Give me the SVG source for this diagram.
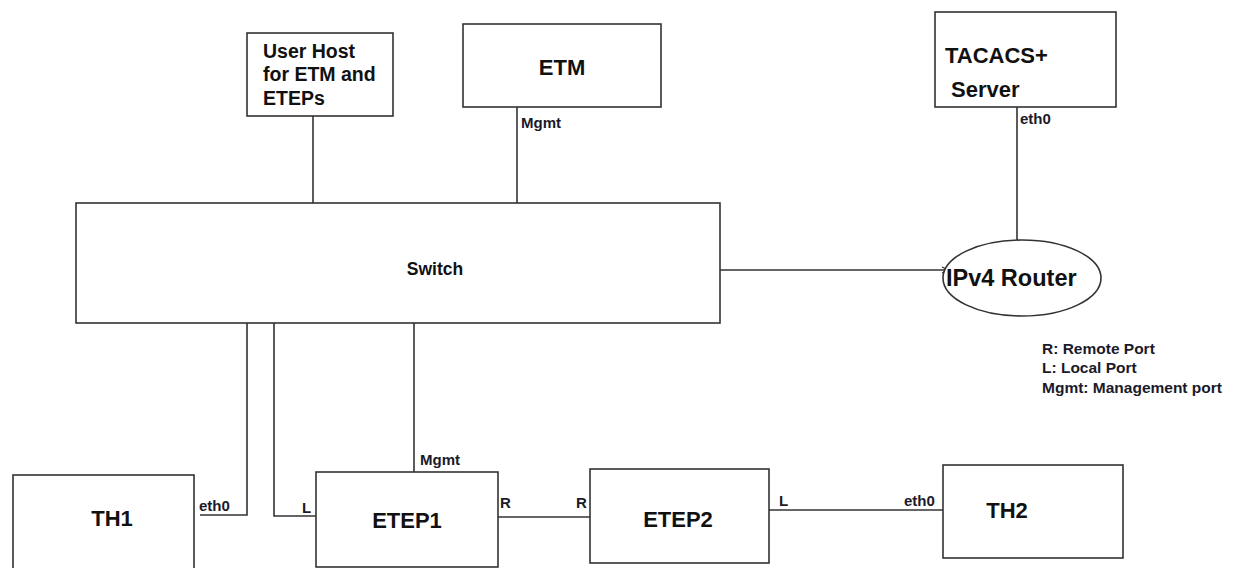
<svg xmlns="http://www.w3.org/2000/svg" width="1235" height="568" viewBox="0 0 1235 568">
  <style>
    .box { fill: #ffffff; stroke: #333333; stroke-width: 1.6; }
    .wire { fill: none; stroke: #333333; stroke-width: 1.6; }
    .title { font-family: "Liberation Sans", Arial, sans-serif; font-weight: bold; font-size: 22px; fill: #111111; }
    .name { font-family: "Liberation Sans", Arial, sans-serif; font-weight: bold; font-size: 19.5px; fill: #111111; }
    .port { font-family: "Liberation Sans", Arial, sans-serif; font-weight: bold; font-size: 15px; fill: #1a1a2a; }
    .legend { font-family: "Liberation Sans", Arial, sans-serif; font-weight: bold; font-size: 15.5px; fill: #1a1a2a; }
  </style>
  <defs>
    <marker id="tip" markerWidth="8" markerHeight="8" refX="7" refY="4" orient="auto" markerUnits="userSpaceOnUse">
      <path d="M1,1 L7,4 L1,7" fill="none" stroke="#333333" stroke-width="1.2"/>
    </marker>
  </defs>
  <rect width="1235" height="568" fill="#ffffff"/>

  <!-- links between devices -->
  <g id="connectors">
    <line class="wire" x1="313" y1="116" x2="313" y2="207"/>
    <line class="wire" x1="517" y1="107" x2="517" y2="207"/>
    <line class="wire" x1="1017" y1="107" x2="1017" y2="240"/>
    <line class="wire" x1="718" y1="270" x2="948" y2="270" marker-end="url(#tip)"/>
    <polyline class="wire" points="247,323 247,515 200,515"/>
    <polyline class="wire" points="274,323 274,516 317,516"/>
    <line class="wire" x1="414" y1="318" x2="414" y2="472"/>
    <line class="wire" x1="498" y1="517" x2="590" y2="517"/>
    <line class="wire" x1="769" y1="510" x2="943" y2="510"/>
  </g>

  <g id="user-host">
    <rect class="box" x="247" y="33" width="146" height="83"/>
    <text class="name" x="263" y="58">User Host</text>
    <text class="name" x="263" y="81">for ETM and</text>
    <text class="name" x="263" y="105">ETEPs</text>
  </g>

  <g id="etm">
    <rect class="box" x="463" y="24" width="198" height="83"/>
    <text class="title" x="562" y="75" text-anchor="middle">ETM</text>
    <text class="port" x="521" y="128">Mgmt</text>
  </g>

  <g id="tacacs-server">
    <rect class="box" x="935" y="12" width="181" height="95"/>
    <text class="title" x="945" y="63">TACACS+</text>
    <text class="title" x="951" y="97">Server</text>
    <text class="port" x="1020" y="124">eth0</text>
  </g>

  <g id="switch">
    <rect class="box" x="76" y="203" width="644" height="120"/>
    <text class="name" x="435" y="275" text-anchor="middle" style="font-size:17.5px">Switch</text>
  </g>

  <g id="ipv4-router">
    <ellipse class="box" cx="1022" cy="278" rx="79" ry="38"/>
    <text class="title" x="946" y="286" style="font-size:23.5px">IPv4 Router</text>
  </g>

  <g id="legend">
    <text class="legend" x="1042" y="354">R: Remote Port</text>
    <text class="legend" x="1042" y="373">L: Local Port</text>
    <text class="legend" x="1042" y="393">Mgmt: Management port</text>
  </g>

  <g id="th1">
    <rect class="box" x="13" y="475" width="181" height="100"/>
    <text class="title" x="112" y="526" text-anchor="middle">TH1</text>
    <text class="port" x="199" y="511">eth0</text>
  </g>

  <g id="etep1">
    <rect class="box" x="316" y="472" width="182" height="95"/>
    <text class="title" x="407" y="528" text-anchor="middle">ETEP1</text>
    <text class="port" x="420" y="465">Mgmt</text>
    <text class="port" x="302" y="513">L</text>
    <text class="port" x="500" y="508">R</text>
  </g>

  <g id="etep2">
    <rect class="box" x="590" y="469" width="179" height="94"/>
    <text class="title" x="678" y="527" text-anchor="middle">ETEP2</text>
    <text class="port" x="576" y="508">R</text>
    <text class="port" x="779" y="506">L</text>
  </g>

  <g id="th2">
    <rect class="box" x="943" y="465" width="180" height="93"/>
    <text class="title" x="1007" y="518" text-anchor="middle">TH2</text>
    <text class="port" x="904" y="506">eth0</text>
  </g>
</svg>
